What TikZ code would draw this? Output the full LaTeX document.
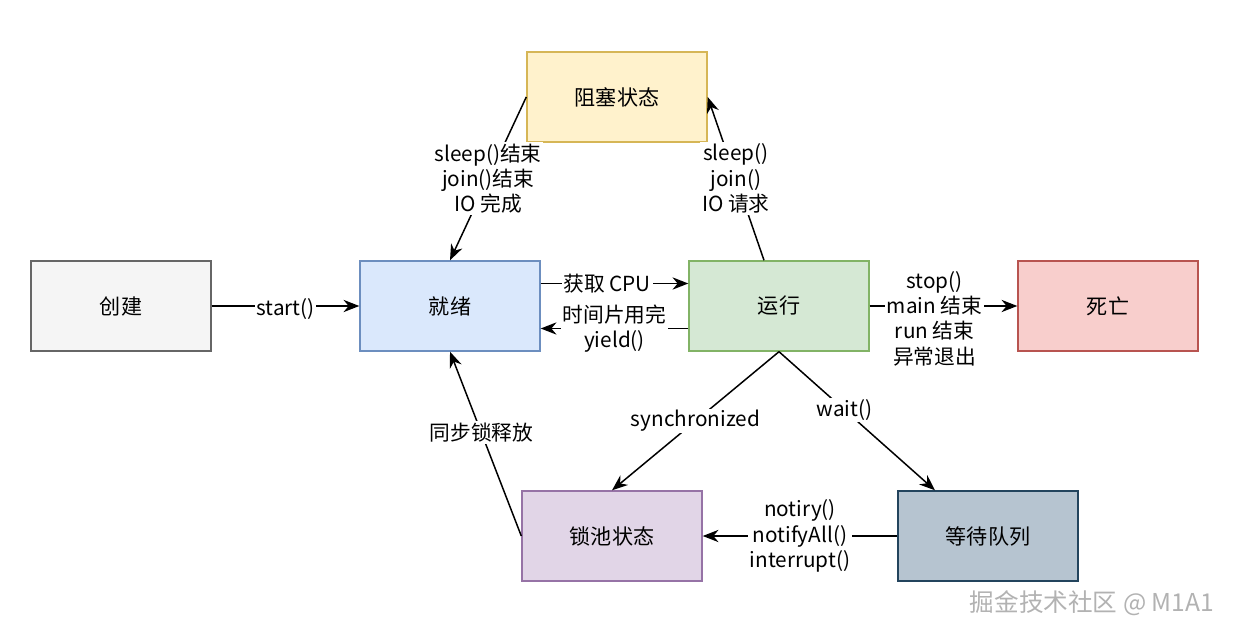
\documentclass[tikz,border=0pt]{standalone}
\usepackage{fontspec}
\setmainfont{Noto Sans CJK SC}
\usetikzlibrary{arrows.meta}

\definecolor{createfill}{HTML}{F5F5F5}\definecolor{createline}{HTML}{666666}
\definecolor{readyfill}{HTML}{DAE8FC}\definecolor{readyline}{HTML}{6C8EBF}
\definecolor{runfill}{HTML}{D5E8D4}\definecolor{runline}{HTML}{82B366}
\definecolor{deadfill}{HTML}{F8CECC}\definecolor{deadline}{HTML}{B85450}
\definecolor{blockfill}{HTML}{FFF2CC}\definecolor{blockline}{HTML}{D6B656}
\definecolor{lockfill}{HTML}{E1D5E7}\definecolor{lockline}{HTML}{9673A6}
\definecolor{waitfill}{HTML}{B6C4D0}\definecolor{waitline}{HTML}{23445D}

\tikzset{
	state/.style={draw, line width=0.8pt, minimum width=3.6cm, minimum height=1.8cm,
		font=\fontsize{12}{14}\selectfont},
	trans/.style={-{Stealth[length=9pt,width=7pt]}, line width=0.85pt},
	lbl/.style={fill=white, align=center, inner sep=1pt, font=\fontsize{11.8}{14.4}\selectfont}
}

\begin{document}
\begin{tikzpicture}
	\useasboundingbox (0,0) rectangle (24.8,-12.74);
	
	\node[state, fill=createfill, draw=createline] (create) at (2.42,-6.12) {创建};
	\node[state, fill=readyfill, draw=readyline] (ready) at (9.0,-6.12) {就绪};
	\node[state, fill=runfill, draw=runline] (run) at (15.58,-6.12) {运行};
	\node[state, fill=deadfill, draw=deadline] (dead) at (22.16,-6.12) {死亡};
	\node[state, fill=blockfill, draw=blockline] (block) at (12.34,-1.94) {阻塞状态};
	\node[state, fill=lockfill, draw=lockline] (lock) at (12.24,-10.72) {锁池状态};
	\node[state, fill=waitfill, draw=waitline] (wait) at (19.76,-10.72) {等待队列};
	
	\draw[trans] (create) -- node[lbl, yshift=-0.06cm] {start()} (ready);
	\draw[trans] ([yshift=0.45cm]ready.east) -- node[lbl, pos=0.45] {获取 CPU} ([yshift=0.45cm]run.west);
	\draw[trans] ([yshift=-0.45cm]run.west) -- node[lbl] {时间片用完\\yield()} ([yshift=-0.45cm]ready.east);
	\draw[trans] (run) -- node[lbl, pos=0.44, yshift=-0.25cm] {stop()\\main 结束\\run 结束\\异常退出} (dead);
	\draw[trans] (block.west) -- node[lbl] {sleep()结束\\join()结束\\IO 完成} (ready.north);
	\draw[trans] ([xshift=-0.3cm]run.north) -- node[lbl] {sleep()\\join()\\IO 请求} (block.east);
	\draw[trans] (run.south) -- node[lbl] {synchronized} (lock.north);
	\draw[trans] (run.south) -- node[lbl, pos=0.42] {wait()} ([xshift=-1.06cm]wait.north);
	\draw[trans] (wait) -- node[lbl] {notiry()\\notifyAll()\\interrupt()} (lock);
	\draw[trans] (lock.west) -- node[lbl, pos=0.56] {同步锁释放} (ready.south);
	
	\node[text=gray!60, font=\fontsize{14}{16}\selectfont] (mark) at (21.84,-12.06) {掘金技术社区 @ M1A1};
\end{tikzpicture}
\end{document}
